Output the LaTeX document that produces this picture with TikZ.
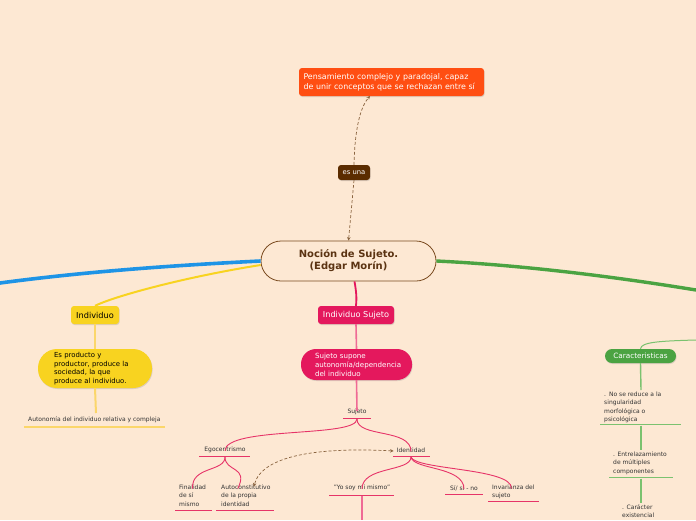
\documentclass[tikz,border=0pt]{standalone}
\usepackage{fontspec}
\setmainfont{DejaVu Sans}
\usetikzlibrary{arrows.meta,shadows}
\definecolor{bg}{HTML}{FDE8D3}
\definecolor{orangebox}{HTML}{FF4E12}
\definecolor{esuna}{HTML}{5B2C00}
\definecolor{brownline}{HTML}{7A4A1F}
\definecolor{browntext}{HTML}{5B3312}
\definecolor{dashbrown}{HTML}{8A6440}
\definecolor{mblue}{HTML}{1E94E6}
\definecolor{myellow}{HTML}{F8D320}
\definecolor{lyellow}{HTML}{FBD66A}
\definecolor{mpink}{HTML}{E4185D}
\definecolor{lpink}{HTML}{EF6A95}
\definecolor{bpink}{HTML}{E63468}
\definecolor{mgreen}{HTML}{4BA342}
\definecolor{lgreen}{HTML}{7BC26F}
\definecolor{txt}{HTML}{333333}
\tikzset{
  dtip/.tip={Stealth[length=3.5pt,width=3.5pt]},
  boxshadow/.style={drop shadow={opacity=0.25,shadow xshift=0.6pt,shadow yshift=-1pt}},
  mainbox/.style={draw=brownline, line width=0.8pt, fill=bg, rounded corners=20pt,
     minimum width=175pt, minimum height=40pt, align=center, text=browntext,
     font=\bfseries\fontsize{10}{12}\selectfont},
  colbox/.style={rounded corners=3pt, inner sep=0pt, boxshadow, align=left},
  smalltext/.style={inner sep=0pt, text=txt, align=left, font=\fontsize{6}{8.4}\selectfont, anchor=north west},
  centext/.style={inner sep=0pt, text=txt, align=center, font=\fontsize{6}{8.4}\selectfont},
  dashlink/.style={draw=dashbrown, densely dashed, line width=0.7pt},
}
\begin{document}
\begin{tikzpicture}[x=1pt,y=-1pt]
\fill[bg] (0,0) rectangle (696,520);
\useasboundingbox (0,0) rectangle (696,520);

% ---- nodes ----
\node[mainbox] (central) at (348.5,261) {Noción de Sujeto.\\(Edgar Morín)};

\node[colbox, fill=orangebox, text=white, minimum width=185pt, minimum height=28pt,
      text width=176pt, font=\fontsize{7.9}{10}\selectfont] (pens) at (391.5,82)
      {Pensamiento complejo y paradojal, capaz\\de unir conceptos que se rechazan entre sí};

\node[colbox, fill=esuna, text=white, minimum width=32pt, minimum height=15pt, align=center,
      font=\fontsize{6.8}{8}\selectfont] (esuna) at (354,172.5) {es una};

\node[colbox, fill=myellow, text=black, minimum width=48pt, minimum height=18pt, align=center,
      font=\fontsize{8.2}{10}\selectfont] (indiv) at (95,315) {Individuo};

\node[colbox, fill=myellow, text=black, rounded corners=19pt, minimum width=114pt, minimum height=39pt,
      text width=82pt, font=\fontsize{6.9}{8.7}\selectfont] (esprod) at (95,368.5)
      {Es producto y\\productor, produce la\\sociedad, la que\\produce al individuo.};

\node[smalltext] (autonomia) at (28,416.5) {Autonomía del individuo relativa y compleja};
\coordinate (autotop) at (96,413);

\node[colbox, fill=mpink, text=white, minimum width=76pt, minimum height=18pt, align=center,
      font=\fontsize{8.2}{10}\selectfont] (indsuj) at (356,315) {Individuo Sujeto};

\node[colbox, fill=mpink, text=white, rounded corners=15pt, minimum width=111pt, minimum height=31pt,
      text width=83pt, font=\fontsize{7.1}{9}\selectfont] (supone) at (356.5,364.5)
      {Sujeto supone\\autonomía/dependencia\\del individuo};

\node[centext] (sujeto) at (357,412) {Sujeto};
\node[centext] (ego) at (225,450) {Egocentrismo};
\node[centext] (ident) at (411,450) {Identidad};
\node[smalltext] (final) at (179,484.5) {Finalidad\\de sí\\mismo};
\node[smalltext] (autocon) at (221,484.5) {Autoconstitutivo\\de la propia\\identidad};
\node[centext] (yosoy) at (362,488) {"Yo soy mi mismo"};
\node[centext] (sisi) at (464,488) {Sí/ sí - no};
\node[smalltext] (invar) at (492,484.5) {Invarianza del\\sujeto};

\node[colbox, fill=mgreen, text=white, rounded corners=7pt, minimum width=71pt, minimum height=14pt,
      align=center, font=\fontsize{7.3}{9}\selectfont] (caract) at (640.5,356) {Caracteristicas};
\node[smalltext] (noreduce) at (604,391.5) {.\enspace No se reduce a la\\singularidad\\morfológica o\\psicológica};
\node[smalltext] (entrel) at (613,451.5) {. Entrelazamiento\\de múltiples\\componentes};
\node[smalltext] (caracter) at (622,504.5) {. Carácter\\existencial};

% off-canvas ends
\coordinate (leftend) at (0,283);
\coordinate (rightend) at (696,290);
\coordinate (rightend2) at (696,340);
\coordinate (bottomend) at (362,520);

% ---- underlines ----
\draw[lyellow, line width=1.2pt] (24,427) -- (165,427);
\draw[bpink, line width=0.9pt] (343,418.5) -- (371,418.5);
\draw[bpink, line width=0.9pt] (199,456.5) -- (250,456.5);
\draw[bpink, line width=0.9pt] (393,456.5) -- (430,456.5);
\draw[bpink, line width=0.9pt] (175,510.5) -- (212,510.5);
\draw[bpink, line width=0.9pt] (216,510.5) -- (274,510.5);
\draw[bpink, line width=0.9pt] (329,495) -- (394,495);
\draw[bpink, line width=0.9pt] (445,494.5) -- (483,494.5);
\draw[bpink, line width=0.9pt] (488,501.5) -- (539,501.5);
\draw[lgreen, line width=0.9pt] (600,424.5) -- (681,424.5);
\draw[lgreen, line width=0.9pt] (609,477.5) -- (673,477.5);

% ---- main branches ----
\draw[mblue, line width=3.6pt] (central.west) .. controls (180,265) and (90,271) .. (leftend);
\draw[mgreen, line width=3.4pt] (central.east) .. controls (520,265) and (610,276) .. (rightend);
\draw[myellow, line width=2pt] ([yshift=-4pt]central.west) .. controls (185,277) and (115,296) .. (indiv.north);
\draw[mpink, line width=1.8pt] ([xshift=6pt]central.south) .. controls (356,290) and (357,298) .. (indsuj.north);
\draw[lgreen, line width=1pt] (caract.north) .. controls (641,342) and (660,341) .. (rightend2);

% ---- sub connectors ----
\draw[lyellow, line width=2pt] (indiv.south) -- (esprod.north);
\draw[lyellow, line width=2pt] (esprod.south) -- (autotop);
\draw[lpink, line width=1.6pt] (indsuj.south) -- (supone.north);
\draw[lpink, line width=1.6pt] (supone.south) -- ([yshift=-2pt]sujeto.north);

\draw[bpink, line width=0.9pt] (357,419) .. controls (357,438) and (225,426) .. ([yshift=-4pt]ego.north);
\draw[bpink, line width=0.9pt] (357,419) .. controls (357,438) and (411,428) .. ([yshift=-4pt]ident.north);
\draw[bpink, line width=0.9pt] (225,457) .. controls (225,472) and (191,466) .. ([yshift=-4pt]final.north);
\draw[bpink, line width=0.9pt] (225,457) .. controls (225,472) and (249,466) .. ([yshift=-4pt,xshift=-8pt]autocon.north);
\draw[bpink, line width=0.9pt] (411,457) .. controls (411,472) and (362,466) .. ([yshift=-4pt]yosoy.north);
\draw[bpink, line width=0.9pt] (411,457) .. controls (413,470) and (464,466) .. ([yshift=-4pt]sisi.north);
\draw[bpink, line width=0.9pt] (411,457) .. controls (415,470) and (513,468) .. ([yshift=-4pt,xshift=-2pt]invar.north);
\draw[lpink, line width=1.6pt] (362,495.5) -- (bottomend);

\draw[lgreen, line width=1.4pt] (caract.south) -- (641,390);
\draw[lgreen, line width=1.4pt] (641,425.5) -- (641,450);
\draw[lgreen, line width=1.4pt] (641,478.5) -- (641,503);

% ---- dashed relations ----
\coordinate (pensend) at (370,96);
\draw[dashlink, -dtip] (esuna.north) .. controls (355,120) and (363,104) .. (pensend);
\draw[dashlink, -dtip] (esuna.south) -- (central.north);
\draw[dashlink, dtip-dtip]
   ([xshift=-3pt,yshift=-1pt]ident.west) .. controls (320,447) and (262,455) .. ([yshift=-2pt,xshift=8pt]autocon.north);
\end{tikzpicture}
\end{document}
